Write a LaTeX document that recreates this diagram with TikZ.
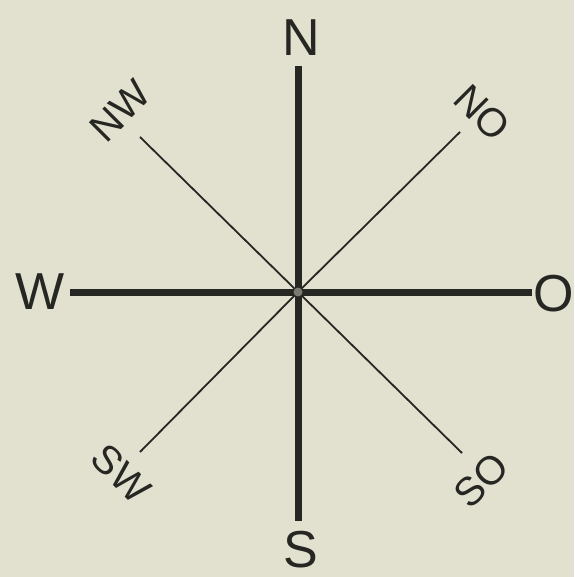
\documentclass[tikz,border=0pt]{standalone}
\usepackage{fontspec}
\setmainfont{Liberation Sans}
\definecolor{paper}{RGB}{226,225,208}
\definecolor{ink}{RGB}{38,38,34}
\begin{document}
\begin{tikzpicture}[x=1pt,y=1pt,
  mainline/.style={draw=ink,line width=7pt},
  diagline/.style={draw=ink,line width=1.8pt},
  biglabel/.style={text=ink,inner sep=0pt,font=\fontsize{52}{52}\selectfont},
  smalllabel/.style={text=ink,inner sep=0pt,font=\fontsize{40}{40}\selectfont}]
\fill[paper] (0,0) rectangle (574,-577);
\useasboundingbox (0,0) rectangle (574,-577);
\coordinate (C) at (298,-292);
% line ends
\coordinate (nE) at (298,-66);
\coordinate (sE) at (298,-521);
\coordinate (wE) at (70,-292);
\coordinate (oE) at (532,-292);
\coordinate (nwE) at (140,-137);
\coordinate (noE) at (460,-132);
\coordinate (swE) at (140,-452);
\coordinate (soE) at (462,-453);
% diagonals
\draw[diagline] (nwE) -- (C);
\draw[diagline] (C) -- (soE);
\draw[diagline] (noE) -- (C);
\draw[diagline] (C) -- (swE);
% main cross
\draw[mainline] (nE) -- (sE);
\draw[mainline] (wE) -- (oE);
\fill[ink!55!paper] (C) circle (4.5pt);
% labels
\node[biglabel] (N) at (301,-38) {N};
\node[biglabel] (S) at (301,-550) {S};
\node[biglabel] (W) at (40,-292) {W};
\node[biglabel] (O) at (554,-294) {O};
\node[smalllabel,rotate=45] (NW) at (120,-111) {NW};
\node[smalllabel,rotate=-45] (NO) at (482,-113) {NO};
\node[smalllabel,rotate=-45] (SW) at (121,-474) {SW};
\node[smalllabel,rotate=45] (SO) at (481,-480) {SO};
\end{tikzpicture}
\end{document}
